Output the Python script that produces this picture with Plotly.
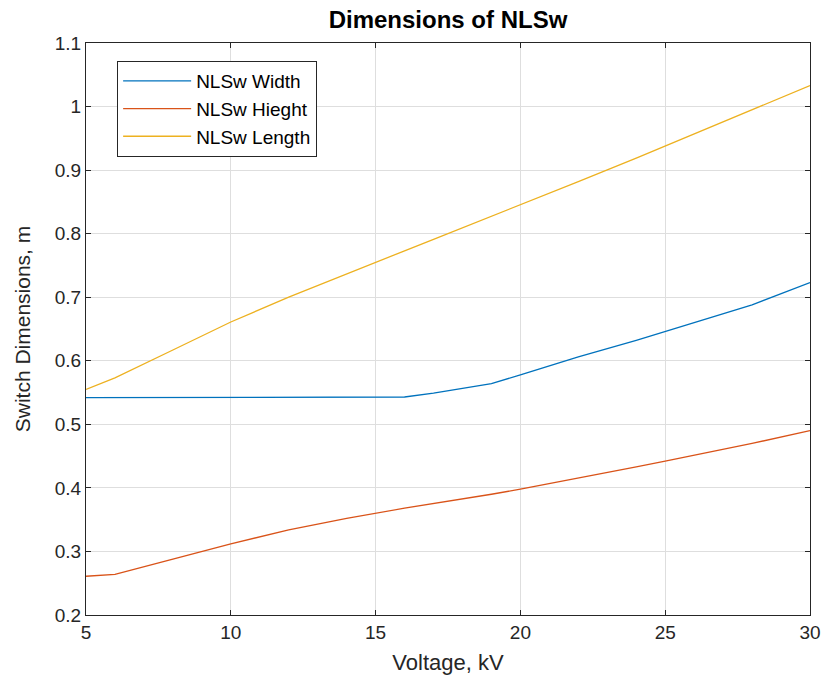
import plotly.graph_objects as go

voltage = [5, 6, 8, 10, 12, 14, 16, 17, 18, 19, 20, 22, 24, 25, 26, 28, 30]
width_m = [0.542, 0.542, 0.542, 0.542, 0.542, 0.542, 0.543, 0.549, 0.556, 0.564,
           0.578, 0.606, 0.632, 0.646, 0.659, 0.688, 0.723]
height_m = [0.261, 0.264, 0.288, 0.312, 0.334, 0.352, 0.368, 0.375, 0.383, 0.390,
            0.398, 0.415, 0.433, 0.442, 0.451, 0.470, 0.490]
length_m = [0.555, 0.573, 0.617, 0.661, 0.700, 0.737, 0.773, 0.791, 0.809, 0.827,
            0.845, 0.882, 0.919, 0.938, 0.957, 0.995, 1.033]

series = [
    ("NLSw Width", width_m, "#0072BD"),
    ("NLSw Hieght", height_m, "#D95319"),
    ("NLSw Length", length_m, "#EDB120"),
]

FONT = "Liberation Sans, Arial, Helvetica, sans-serif"
AX = "#262626"

fig = go.Figure()
for name, vals, col in series:
    fig.add_trace(go.Scatter(x=voltage, y=vals, mode="lines", name=name,
                             line=dict(color=col, width=1.3)))

axis_common = dict(
    showline=True, linecolor=AX, linewidth=1, mirror="allticks",
    ticks="inside", ticklen=5, tickcolor=AX, tickwidth=1,
    showgrid=True, gridcolor="#dedede", gridwidth=1, zeroline=False,
    automargin=False,
    tickfont=dict(family=FONT, size=19, color=AX),
)

fig.update_layout(
    width=824, height=687,
    margin=dict(l=86, r=14, t=43, b=72, autoexpand=False),
    paper_bgcolor="white", plot_bgcolor="white",
    title=dict(text="<b>Dimensions of NLSw</b>", xref="paper", x=0.5, xanchor="center",
               y=1 - 20 / 687, yanchor="middle",
               font=dict(family=FONT, size=24, color="black")),
    xaxis=dict(range=[5, 30], tickvals=[5, 10, 15, 20, 25, 30],
               title=dict(text="Voltage, kV", standoff=12,
                          font=dict(family=FONT, size=22, color=AX)),
               **axis_common),
    yaxis=dict(range=[0.2, 1.1],
               tickvals=[0.2, 0.3, 0.4, 0.5, 0.6, 0.7, 0.8, 0.9, 1.0, 1.1],
               ticktext=["0.2", "0.3", "0.4", "0.5", "0.6", "0.7", "0.8", "0.9", "1", "1.1"],
               title=dict(text="Switch Dimensions, m", standoff=18,
                          font=dict(family=FONT, size=21, color=AX)),
               **axis_common),
    legend=dict(x=0.043, y=0.9685, xanchor="left", yanchor="top",
                bgcolor="white", bordercolor=AX, borderwidth=1,
                font=dict(family=FONT, size=19, color="black"),
                tracegroupgap=0, itemwidth=68),
    showlegend=True,
)

fig.write_html("out.html")
